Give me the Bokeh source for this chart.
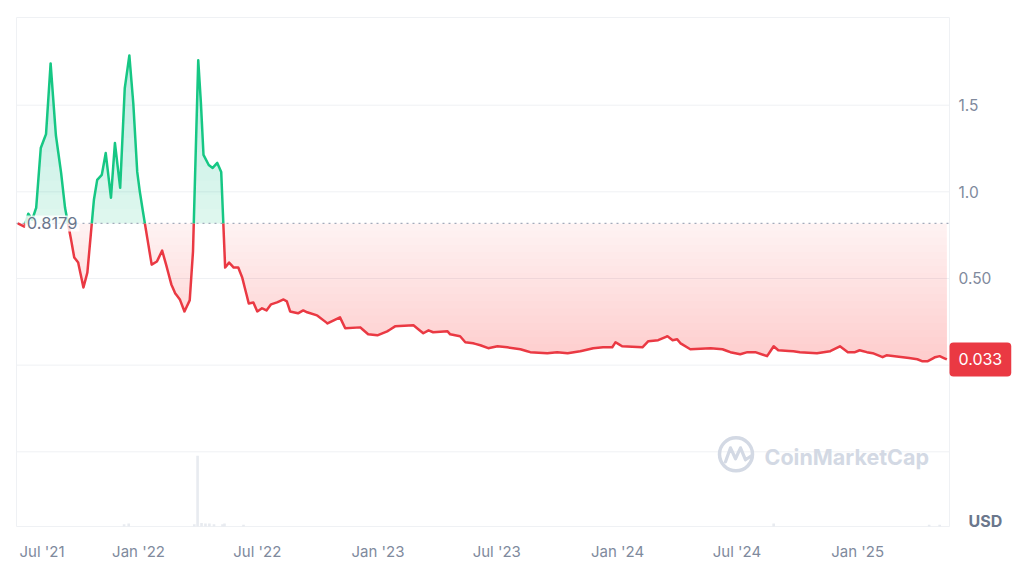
import numpy as np
import pandas as pd
from bokeh.plotting import figure
from bokeh.models import Range1d, FixedTicker, Label
from bokeh.core.properties import value
from bokeh.embed import file_html
from bokeh.resources import INLINE

# ---------------- data ----------------
dates = [
    "2021-07-01", "2021-07-11", "2021-07-17", "2021-07-23", "2021-07-29", "2021-08-05",
    "2021-08-13", "2021-08-20", "2021-08-28", "2021-09-05", "2021-09-11", "2021-09-21",
    "2021-09-25", "2021-10-01", "2021-10-09", "2021-10-15", "2021-10-25", "2021-10-30",
    "2021-11-06", "2021-11-12", "2021-11-20", "2021-11-26", "2021-12-04", "2021-12-11",
    "2021-12-18", "2021-12-24", "2021-12-30", "2022-01-03", "2022-01-08", "2022-01-21",
    "2022-01-29", "2022-02-06", "2022-02-12", "2022-02-20", "2022-02-26", "2022-03-05",
    "2022-03-12", "2022-03-20", "2022-03-25", "2022-04-02", "2022-04-06", "2022-04-10",
    "2022-04-18", "2022-04-24", "2022-05-01", "2022-05-07", "2022-05-13", "2022-05-19",
    "2022-05-26", "2022-06-02", "2022-06-08", "2022-06-18", "2022-06-25", "2022-07-01",
    "2022-07-08", "2022-07-15", "2022-07-22", "2022-07-31", "2022-08-10", "2022-08-15",
    "2022-08-20", "2022-09-01", "2022-09-09", "2022-09-15", "2022-09-30", "2022-10-16",
    "2022-11-04", "2022-11-12", "2022-12-05", "2022-12-17", "2022-12-31", "2023-01-15",
    "2023-01-27", "2023-02-24", "2023-03-11", "2023-03-19", "2023-03-26", "2023-04-17",
    "2023-04-21", "2023-05-06", "2023-05-14", "2023-05-26", "2023-06-06", "2023-06-18",
    "2023-07-02", "2023-07-17", "2023-08-06", "2023-08-21", "2023-09-16", "2023-10-01",
    "2023-10-17", "2023-11-05", "2023-11-25", "2023-12-10", "2023-12-24", "2023-12-29",
    "2024-01-08", "2024-02-08", "2024-02-17", "2024-03-03", "2024-03-17", "2024-03-25",
    "2024-04-01", "2024-04-06", "2024-04-21", "2024-05-22", "2024-06-09", "2024-06-21",
    "2024-07-06", "2024-07-17", "2024-07-29", "2024-08-16", "2024-08-26", "2024-09-02",
    "2024-09-25", "2024-10-05", "2024-10-31", "2024-11-20", "2024-12-05", "2024-12-17",
    "2024-12-28", "2025-01-04", "2025-01-15", "2025-01-24", "2025-02-08", "2025-02-14",
    "2025-03-11", "2025-04-02", "2025-04-09", "2025-04-18", "2025-04-29", "2025-05-06",
    "2025-05-17",
]
prices = [
    0.8179, 0.799, 0.874, 0.839, 0.908, 1.253,
    1.333, 1.741, 1.328, 1.109, 0.908, 0.707,
    0.621, 0.592, 0.448, 0.534, 0.954, 1.069,
    1.098, 1.224, 0.966, 1.282, 1.023, 1.598,
    1.787, 1.511, 1.115, 1.000, 0.879, 0.580,
    0.598, 0.661, 0.580, 0.466, 0.414, 0.379,
    0.310, 0.374, 0.655, 1.759, 1.517, 1.213,
    1.155, 1.138, 1.167, 1.115, 0.563, 0.592,
    0.563, 0.563, 0.506, 0.356, 0.362, 0.310,
    0.328, 0.316, 0.351, 0.362, 0.379, 0.368,
    0.310, 0.299, 0.316, 0.305, 0.287, 0.241,
    0.276, 0.213, 0.218, 0.178, 0.172, 0.195,
    0.224, 0.230, 0.184, 0.201, 0.190, 0.195,
    0.178, 0.167, 0.132, 0.126, 0.115, 0.098,
    0.109, 0.103, 0.092, 0.075, 0.069, 0.075,
    0.069, 0.080, 0.098, 0.103, 0.103, 0.132,
    0.109, 0.103, 0.138, 0.144, 0.167, 0.144,
    0.149, 0.126, 0.092, 0.098, 0.092, 0.075,
    0.063, 0.075, 0.075, 0.052, 0.109, 0.086,
    0.080, 0.075, 0.069, 0.080, 0.109, 0.075,
    0.075, 0.086, 0.075, 0.069, 0.046, 0.057,
    0.046, 0.034, 0.023, 0.023, 0.046, 0.052,
    0.033,
]
baseline_price = 0.8179
baseline_label = "0.8179"
last_price_label = "0.033"

vol_dates = ["2021-12-10", "2021-12-17", "2022-03-27", "2022-04-01", "2022-04-07",
             "2022-04-13", "2022-04-19", "2022-04-26", "2022-05-09", "2022-05-12",
             "2022-06-10", "2024-08-26", "2025-04-20", "2025-05-06"]
vol_values = [4, 5, 4, 120, 6, 5, 5, 4, 4, 5, 3, 5, 3, 3]

x_tick_dates = ["2021-08-07", "2022-01-01", "2022-07-01", "2023-01-01",
                "2023-07-01", "2024-01-01", "2024-07-01", "2025-01-01"]
x_tick_labels = ["Jul '21", "Jan '22", "Jul '22", "Jan '23",
                 "Jul '23", "Jan '24", "Jul '24", "Jan '25"]
y_ticks = [-0.5, 0.0, 0.5, 1.0, 1.5, 2.006]
y_label_ticks = [0.5, 1.0, 1.5]
y_label_texts = ["0.50", "1.0", "1.5"]

# ---------------- styling ----------------
GREEN = "#16c784"
RED = "#ea3943"
GRID = "#eff1f4"
TXT = "#808a9d"
FONT = "Inter"


def to_ms(ds):
    return (pd.to_datetime(pd.Series(ds)).astype("int64") // 10**6).astype(float).to_numpy()


# price panel: x from 2021-06-29 (px 16) to 2025-05-21 (px 949); y -0.931 (px 528) .. 2.006 (px 17)
X0 = to_ms(["2021-06-29"])[0]
X1 = to_ms(["2025-05-21"])[0]
Y0, Y1 = -0.931, 2.006


def px_x(px):
    return X0 + (px - 16) / (949 - 16) * (X1 - X0)


def px_y(py):
    return Y1 - (py - 17) / (528 - 17) * (Y1 - Y0)


x = to_ms(dates)
y = np.array(prices, dtype=float)
base = baseline_price

red_levels = list(np.linspace(base, 0.0, 21)[1:-1])
green_levels = list(np.linspace(base, 1.8, 13)[1:])


def with_crossings(xv, yv, levels):
    xs, ys = [xv[0]], [yv[0]]
    for i in range(1, len(xv)):
        xa, ya, xb, yb = xv[i - 1], yv[i - 1], xv[i], yv[i]
        lo, hi = min(ya, yb), max(ya, yb)
        cr = sorted([L for L in levels if lo < L < hi], reverse=(yb < ya))
        for L in cr:
            t = (L - ya) / (yb - ya)
            xs.append(xa + t * (xb - xa))
            ys.append(L)
        xs.append(xb)
        ys.append(yb)
    return np.array(xs), np.array(ys)


X, Y = with_crossings(x, y, [base] + red_levels + green_levels)

# the frame covers the whole drawing (incl. right-hand price labels) so nothing is clipped
p = figure(width=1016, height=563, x_axis_type="datetime",
           x_range=Range1d(px_x(15), px_x(1016)), y_range=Range1d(px_y(530), px_y(15)),
           output_backend="svg", toolbar_location=None, tools="",
           min_border_left=15, min_border_top=15, min_border_right=0, min_border_bottom=33)
p.background_fill_color = "white"
p.border_fill_color = "white"
p.outline_line_color = None
p.yaxis.visible = False
p.xgrid.visible = False
p.ygrid.visible = False

# grid lines and panel border
p.segment(x0=X0, x1=X1, y0=y_ticks, y1=y_ticks, line_color=GRID, line_width=1)
p.segment(x0=[X0, X1, X0], x1=[X0, X1, X1], y0=[Y0, Y0, Y0], y1=[Y1, Y1, Y0],
          line_color=GRID, line_width=1)

# volume panel
vmax = max(vol_values)
vpp = vmax / 71.0
p.extra_y_ranges = {"vol": Range1d(-2 * vpp, 513 * vpp)}
p.vbar(x=to_ms(vol_dates), top=vol_values, width=4 * 86400000, y_range_name="vol",
       fill_color="#e8ebf0", line_color=None)

# fills: green above baseline, red below, gradient via stacked layers
p.varea(x=X, y1=base, y2=np.maximum(Y, base), fill_color=GREEN, fill_alpha=0.14)
for L in green_levels:
    p.varea(x=X, y1=L, y2=np.maximum(Y, L), fill_color=GREEN, fill_alpha=0.012)
p.varea(x=X, y1=np.minimum(Y, base), y2=base, fill_color=RED, fill_alpha=0.065)
for L in red_levels:
    p.varea(x=X, y1=np.minimum(Y, L), y2=L, fill_color=RED, fill_alpha=0.0111)

# baseline (dotted)
p.segment(x0=[X0], x1=[X1], y0=[base], y1=[base], line_color="#a3abbb",
          line_width=1.3, line_dash="2 4")

# price line split by baseline
eps = 1e-9
yg = np.where(Y >= base - eps, Y, np.nan)
yr = np.where(Y <= base + eps, Y, np.nan)
p.line(X, yr, line_color=RED, line_width=2.5, line_join="round")
p.line(X, yg, line_color=GREEN, line_width=2.5, line_join="round")

# right-hand price labels
p.text(x=[px_x(958)] * len(y_label_ticks), y=y_label_ticks, text=y_label_texts,
       text_baseline="middle", text_align="left", text_font=value(FONT),
       text_font_size="15.5px", text_color=TXT)

# x axis
xa = p.xaxis[0]
xt = list(to_ms(x_tick_dates))
xa.ticker = FixedTicker(ticks=xt)
xa.major_label_overrides = {t: s for t, s in zip(xt, x_tick_labels)}
xa.axis_line_color = None
xa.major_tick_line_color = None
xa.minor_tick_line_color = None
xa.major_tick_out = 0
xa.major_tick_in = 0
xa.major_label_text_color = TXT
xa.major_label_text_font = FONT
xa.major_label_text_font_size = "15px"
xa.major_label_standoff = 13

# baseline value label
p.add_layout(Label(x=x[0], y=base, x_offset=7, text=baseline_label, text_baseline="middle",
                   text_font=FONT, text_font_size="16.5px", text_color="#6a768c",
                   background_fill_color="white", background_fill_alpha=0.8, padding=2))

# last price badge
p.add_layout(Label(x=X1, y=y[-1], x_offset=0, text=last_price_label, text_baseline="middle",
                   text_font=FONT, text_font_size="16px", text_color="white",
                   background_fill_color=RED, background_fill_alpha=1.0,
                   padding=dict(left=9, right=9, top=11, bottom=11), border_radius=4))

# USD
p.add_layout(Label(x=px_x(968), y=px_y(522), text="USD", text_baseline="middle",
                   text_font=FONT, text_font_size="16px", text_font_style="bold",
                   text_color="#6b778c"))

# watermark
WM = "#d3d9e4"
p.scatter(x=[px_x(735.5)], y=[px_y(455.5)], size=33, marker="circle", fill_color=None,
          line_color=WM, line_width=3.5)
wx = [px_x(v) for v in (725, 730, 735, 740, 745, 751)]
wy = [px_y(v) for v in (463, 449, 460, 449, 461, 457)]
p.line(wx, wy, line_color=WM, line_width=3.2, line_join="round", line_cap="round")
p.add_layout(Label(x=px_x(764), y=px_y(458), text="CoinMarketCap", text_baseline="middle",
                   text_font=FONT, text_font_size="21.5px", text_font_style="bold",
                   text_color=WM))

open("out.html", "w").write(file_html(p, INLINE))
